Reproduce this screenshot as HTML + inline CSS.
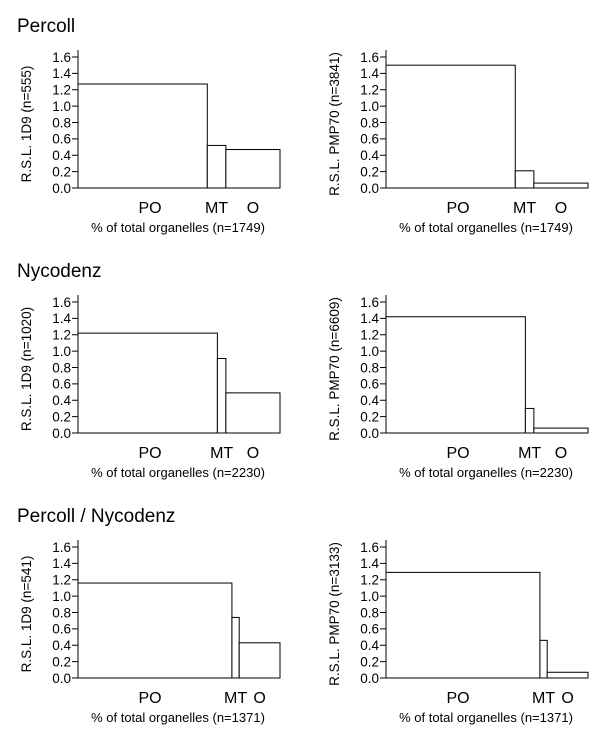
<!DOCTYPE html>
<html><head><meta charset="utf-8"><style>
html,body{margin:0;padding:0;background:#fff;}
svg{display:block;font-family:"Liberation Sans",Arial,sans-serif;}
</style></head><body>
<svg id="chart" width="600" height="734" viewBox="0 0 600 734" xmlns="http://www.w3.org/2000/svg"></svg>
<script>
// Data
const rowTitles = ["Percoll", "Nycodenz", "Percoll / Nycodenz"];
const categories = ["PO", "MT", "O"];
const nTotals = [1749, 2230, 1371];
const widthPct = [[64, 9.2, 26.8], [69, 4.2, 26.8], [76.2, 3.6, 20.2]];
const vals1D9 = [[1.27, 0.52, 0.47], [1.22, 0.91, 0.49], [1.16, 0.74, 0.43]];
const valsPMP70 = [[1.50, 0.21, 0.06], [1.42, 0.30, 0.06], [1.29, 0.46, 0.07]];
const n1D9 = [555, 1020, 541];
const nPMP70 = [3841, 6609, 3133];
const yTicks = ["0.0","0.2","0.4","0.6","0.8","1.0","1.2","1.4","1.6"];

const svg = document.getElementById('chart');
const NS = "http://www.w3.org/2000/svg";
function mk(tag, attrs, parent) {
  const e = document.createElementNS(NS, tag);
  for (const k in attrs) e.setAttribute(k, attrs[k]);
  (parent || svg).appendChild(e);
  return e;
}
const rowStep = 245;
const plotW = 202;
const y0 = 188, yTop = 57;
function yScale(v, off) { return off + y0 - (v / 1.6) * (y0 - yTop); }

rowTitles.forEach((t, r) => {
  const off = r * rowStep;
  const tt = mk('text', {x: 17, y: 32 + off, 'font-size': 19, fill: '#000'});
  
  
  tt.textContent = t;
  [[78, vals1D9[r], "R.S.L. 1D9 (n=" + n1D9[r] + ")", '1d9', 31],
   [386, valsPMP70[r], "R.S.L. PMP70 (n=" + nPMP70[r] + ")", 'pmp70', 339]].forEach(p => {
    const [ax, vals, ylab, key, ylx] = p;
    const g = mk('g', {});
    
    
    const yl = mk('line', {x1: ax, y1: off + 50, x2: ax, y2: off + y0 + 0.5, stroke: '#000', 'stroke-width': 1}, g);
    
    
    const xl = mk('line', {x1: ax - 6, y1: off + y0, x2: ax + plotW, y2: off + y0, stroke: '#000', 'stroke-width': 1}, g);
    
    
    yTicks.forEach(tk => {
      const yy = yScale(parseFloat(tk), off);
      const l = mk('line', {x1: ax - 6, y1: yy, x2: ax, y2: yy, stroke: '#000'}, g);
      
      
      const tx = mk('text', {x: ax - 7, y: yy + 4.8, 'font-size': 13.5, 'text-anchor': 'end'}, g);
      
      
      tx.textContent = tk;
    });
    const yt = mk('text', {x: ylx, y: off + 124, 'font-size': 13.5, 'text-anchor': 'middle', transform: 'rotate(-90 ' + ylx + ' ' + (off + 124) + ')'}, g);
    
    
    yt.textContent = ylab;
    let cx = ax;
    categories.forEach((c, i) => {
      const w = widthPct[r][i] / 100 * plotW;
      const top = yScale(vals[i], off);
      const b = mk('rect', {x: cx, y: top, width: w, height: off + y0 - top, fill: '#fff', stroke: '#000', 'stroke-width': 1}, g);
      
      
      let lx = cx + w / 2;
      if (i === 0) lx = ax + 72;
      const lb = mk('text', {x: lx, y: off + 213, 'font-size': 16, 'text-anchor': 'middle'}, g);
      
      
      lb.textContent = c;
      cx += w;
    });
    const xt = mk('text', {x: ax + 100, y: off + 232, 'font-size': 13, 'text-anchor': 'middle'}, g);
    
    
    xt.textContent = "% of total organelles (n=" + nTotals[r] + ")";
  });
});
</script>
</body></html>
